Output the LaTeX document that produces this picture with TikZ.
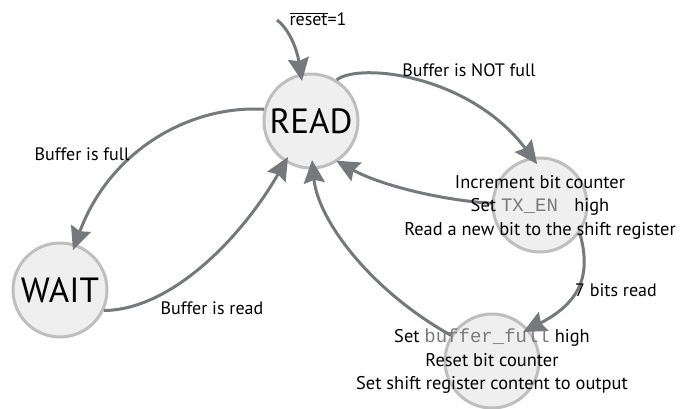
\documentclass[tikz,border=0pt]{standalone}
\usepackage{fontspec}
\setmainfont{PT Sans}
\newfontfamily\codefont{Liberation Mono}
\usetikzlibrary{arrows.meta}
\definecolor{statefill}{HTML}{EFEFEF}
\definecolor{stateline}{HTML}{BEBEBE}
\definecolor{edgegray}{HTML}{76797B}
\definecolor{codegray}{HTML}{7A7A7A}
\newcommand{\code}[1]{{\codefont\fontsize{19}{23.5}\selectfont\color{codegray}#1}}
\begin{document}
\begin{tikzpicture}[x=1pt,y=-1pt,
  state/.style={circle, draw=stateline, fill=statefill, line width=3pt,
                minimum size=94pt, inner sep=0pt},
  bigname/.style={font=\fontsize{35}{40}\selectfont},
  edge/.style={draw=edgegray, line width=3pt,
               -{Stealth[length=23pt,width=21pt,inset=3pt]}},
  lbl/.style={font=\fontsize{18}{21}\selectfont, inner sep=0pt},
  actions/.style={font=\fontsize{18.4}{23.5}\selectfont, align=center, inner sep=0pt},
]
\useasboundingbox (0,0) rectangle (681,408);

% states
\node[state, bigname] (read) at (311,121) {READ};
\node[state, bigname] (wait) at (60,290) {WAIT};
\node[state] (tx)  at (540,205) {};
\node[state] (bot) at (492,361) {};
\coordinate (init) at (277,20);

% transitions
\draw[edge] (init) .. controls (290,30) and (297,50) .. ([shift={(102.7:41pt)}]read.center);
\draw[edge] (read.58) .. controls (360,62) and (470,75) .. ([shift={(94:41pt)}]tx.center);
\draw[edge] (tx.178) .. controls (440,200) and (380,185) .. ([shift={(-57.6:47pt)}]read.center);
\draw[edge] (tx.-35) .. controls (590,270) and (585,300) .. ([shift={(43:42.5pt)}]bot.center);
\draw[edge] (bot.148) .. controls (370,290) and (318,220) .. ([shift={(-88.5:39pt)}]read.center);
\draw[edge] (read.166) .. controls (190,105) and (110,150) .. ([shift={(72:42pt)}]wait.center);
\draw[edge] (wait.-25) .. controls (170,310) and (240,240) .. ([shift={(237.4:42.7pt)}]read.center);

% transition labels
\node[lbl] (lreset) at (318,19) {$\overline{\mbox{reset}}$=1};
\node[lbl] (lnotfull) at (469,70) {Buffer is NOT full};
\node[lbl] (lfull) at (82,154) {Buffer is full};
\node[lbl] (lread) at (212,308) {Buffer is read};
\node[lbl] (lseven) at (616,290) {7 bits read};

% state actions
\node[actions] (txtext) at (540,207)
  {Increment bit counter\\Set \code{TX\_EN } high\\Read a new bit to the shift register};
\node[actions] (bottext) at (492,361.5)
  {Set \code{buffer\_full} high\\Reset bit counter\\Set shift register content to output};
\end{tikzpicture}
\end{document}
